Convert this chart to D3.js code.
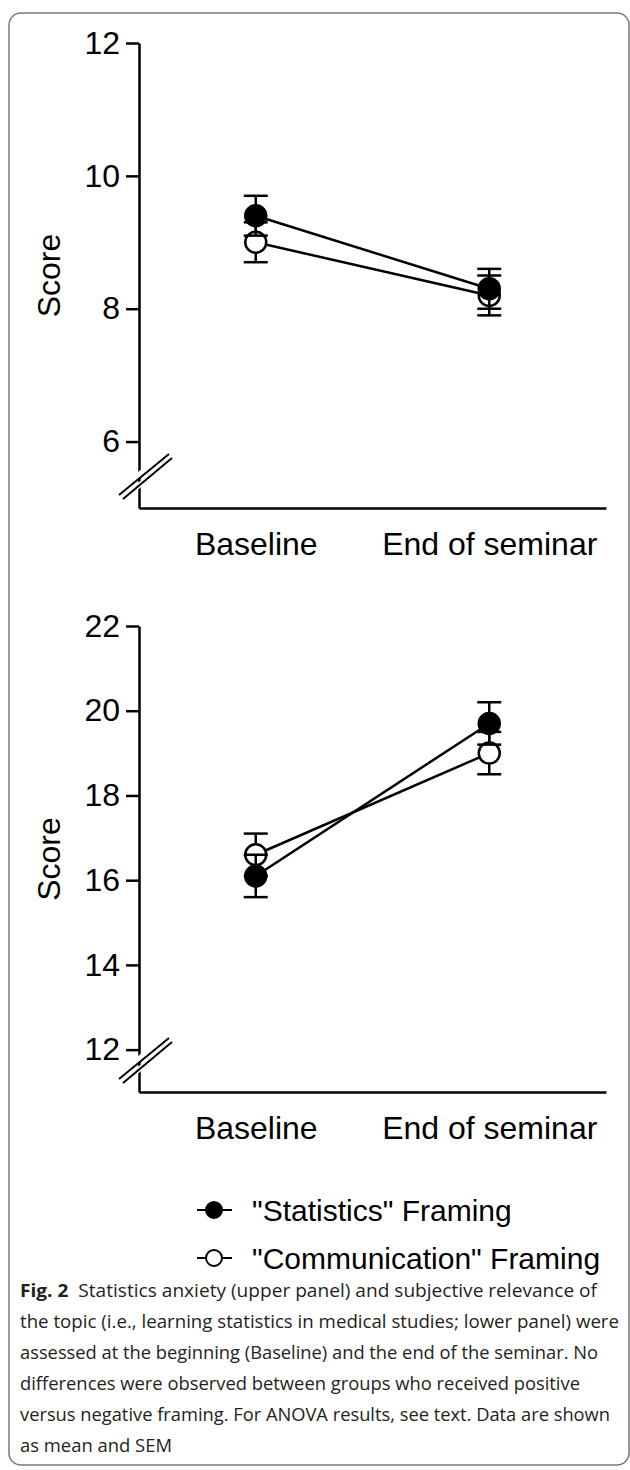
<!DOCTYPE html>
<html lang="en">
<head>
    <meta charset="UTF-8">
    <title>Fig. 2 framing scores</title>
    <script src="https://d3js.org/d3.v7.min.js"></script>
</head>
<body>
    <div id="container"></div>
</body>

<style>
body {
    margin: 0;
    background: #fff;
}
svg text {
    font-family: "Liberation Sans", Arial, sans-serif;
    fill: #000;
}
.caption text {
    font-family: "Open Sans", sans-serif;
    font-size: 18px;
    fill: #231f20;
}
</style>

<script>
    // 时间点 / 组别
    const timepoints = ['Baseline', 'End of seminar']
    const groups = ['"Statistics" Framing', '"Communication" Framing']

    // 上图: statistics anxiety (mean, SEM)
    const anxietyStats = [9.4, 8.3]
    const anxietyStatsSem = [0.3, 0.3]
    const anxietyComm = [9.0, 8.2]
    const anxietyCommSem = [0.3, 0.3]
    const anxietyTicks = [6, 8, 10, 12]
    const anxietyDomain = [5, 12]

    // 下图: subjective relevance (mean, SEM)
    const relevanceStats = [16.1, 19.7]
    const relevanceStatsSem = [0.5, 0.5]
    const relevanceComm = [16.6, 19.0]
    const relevanceCommSem = [0.5, 0.5]
    const relevanceTicks = [12, 14, 16, 18, 20, 22]
    const relevanceDomain = [11, 22]

    const captionLines = [
        'Statistics anxiety (upper panel) and subjective relevance of',
        'the topic (i.e., learning statistics in medical studies; lower panel) were',
        'assessed at the beginning (Baseline) and the end of the seminar. No',
        'differences were observed between groups who received positive',
        'versus negative framing. For ANOVA results, see text. Data are shown',
        'as mean and SEM'
    ]
    const captionWidths = [577, 599, 578, 560, 590, 152]

    const width = 630
    const height = 1470

    const svg = d3.select('#container')
        .append('svg')
        .attr('width', width)
        .attr('height', height)

    // 外框
    svg.append('rect')
        .attr('x', 9)
        .attr('y', 13)
        .attr('width', 620)
        .attr('height', 1452)
        .attr('rx', 12)
        .attr('fill', 'none')
        .attr('stroke', '#7a7a7a')
        .attr('stroke-width', 1.5)

    const x = d3.scalePoint()
        .domain(timepoints)
        .range([139, 606])
        .padding(0.5)

    function drawPanel(top, bottom, domain, ticks, stats, statsSem, comm, commSem) {
        const y = d3.scaleLinear()
            .domain(domain)
            .range([bottom, top])

        const g = svg.append('g')

        // y轴
        const yAxis = g.append('g')
            .attr('transform', 'translate(' + x.range()[0] + ',0)')
            .call(d3.axisLeft(y)
                .tickValues(ticks)
                .tickFormat(d3.format('d'))
                .tickSize(13)
                .tickSizeOuter(0)
                .tickPadding(6))
        yAxis.selectAll('text').style('font-size', '32px')

        // x轴
        const xAxis = g.append('g')
            .attr('transform', 'translate(0,' + bottom + ')')
            .call(d3.axisBottom(x).tickSize(0).tickSizeOuter(0).tickPadding(24))
        xAxis.selectAll('text').style('font-size', '32px')

        g.selectAll('.domain, .tick line')
            .attr('stroke', '#000')
            .attr('stroke-width', 2.5)

        // 坐标轴断开标记
        const bx = x.range()[0]
        const by = bottom - 29
        const brk = g.append('g').attr('transform', 'translate(' + bx + ',' + by + ')')
        brk.append('path')
            .attr('d', 'M-22,14 L27,-27 M-15,19 L34,-22')
            .attr('stroke', '#fff')
            .attr('stroke-width', 5)
        brk.append('path')
            .attr('d', 'M-20,16 L30,-25 M-16,20 L33,-21')
            .attr('stroke', '#000')
            .attr('stroke-width', 2)

        // 纵轴标题
        g.append('text')
            .attr('transform', 'translate(60,' + (top + bottom) / 2 + ') rotate(-90)')
            .attr('text-anchor', 'middle')
            .style('font-size', '32px')
            .text('Score')

        const series = [
            { values: comm, sem: commSem, fill: '#fff' },
            { values: stats, sem: statsSem, fill: '#000' }
        ]

        const line = d3.line()
            .x(function (d, i) { return x(timepoints[i]) })
            .y(function (d) { return y(d) })

        // 先画连线
        series.forEach(function (s) {
            g.append('path')
                .datum(s.values)
                .attr('d', line)
                .attr('fill', 'none')
                .attr('stroke', '#000')
                .attr('stroke-width', 2.5)
        })

        // 误差线和点
        series.forEach(function (s) {
            const pts = s.values.map(function (v, i) {
                return { t: timepoints[i], v: v, e: s.sem[i] }
            })
            const eb = g.append('g')
                .selectAll('g')
                .data(pts)
                .enter()
                .append('g')
                .attr('stroke', '#000')
                .attr('stroke-width', 2.5)
            eb.append('line')
                .attr('x1', function (d) { return x(d.t) })
                .attr('x2', function (d) { return x(d.t) })
                .attr('y1', function (d) { return y(d.v - d.e) })
                .attr('y2', function (d) { return y(d.v + d.e) })
            eb.append('line')
                .attr('x1', function (d) { return x(d.t) - 12 })
                .attr('x2', function (d) { return x(d.t) + 12 })
                .attr('y1', function (d) { return y(d.v + d.e) })
                .attr('y2', function (d) { return y(d.v + d.e) })
            eb.append('line')
                .attr('x1', function (d) { return x(d.t) - 12 })
                .attr('x2', function (d) { return x(d.t) + 12 })
                .attr('y1', function (d) { return y(d.v - d.e) })
                .attr('y2', function (d) { return y(d.v - d.e) })

            g.append('g')
                .selectAll('circle')
                .data(pts)
                .enter()
                .append('circle')
                .attr('cx', function (d) { return x(d.t) })
                .attr('cy', function (d) { return y(d.v) })
                .attr('r', 10.5)
                .attr('fill', s.fill)
                .attr('stroke', '#000')
                .attr('stroke-width', 2.5)
        })
    }

    drawPanel(43, 508, anxietyDomain, anxietyTicks,
        anxietyStats, anxietyStatsSem, anxietyComm, anxietyCommSem)
    drawPanel(626, 1092, relevanceDomain, relevanceTicks,
        relevanceStats, relevanceStatsSem, relevanceComm, relevanceCommSem)

    // 图例
    const legend = svg.append('g')
        .selectAll('g')
        .data(groups)
        .enter()
        .append('g')
        .attr('transform', function (d, i) {
            return 'translate(0,' + (1210 + i * 48) + ')'
        })
    legend.append('line')
        .attr('x1', 197)
        .attr('x2', 232)
        .attr('stroke', '#000')
        .attr('stroke-width', 2)
    legend.append('circle')
        .attr('cx', 214)
        .attr('r', 8)
        .attr('fill', function (d, i) { return i === 0 ? '#000' : '#fff' })
        .attr('stroke', '#000')
        .attr('stroke-width', 2)
    legend.append('text')
        .attr('x', 252)
        .attr('y', 11)
        .style('font-size', '30px')
        .text(function (d) { return d })

    // 图注
    const caption = svg.append('g').attr('class', 'caption')
    caption.selectAll('text')
        .data(captionLines)
        .enter()
        .append('text')
        .attr('x', 20)
        .attr('y', function (d, i) { return 1297 + i * 31 })
        .attr('textLength', function (d, i) { return captionWidths[i] })
        .attr('lengthAdjust', 'spacingAndGlyphs')
        .each(function (d, i) {
            const t = d3.select(this)
            if (i === 0) {
                t.append('tspan').style('font-weight', 'bold').text('Fig. 2')
                t.append('tspan').text('\u00a0\u00a0' + d)
            } else {
                t.text(d)
            }
        })
</script>
</html>
